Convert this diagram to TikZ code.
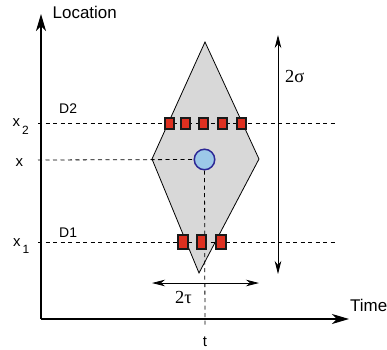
\documentclass[tikz,border=0pt]{standalone}
\usepackage{fontspec}
\setmainfont{Liberation Sans}
\newfontfamily\grk{Liberation Serif}
\usetikzlibrary{arrows.meta,positioning}
\definecolor{sensred}{RGB}{222,48,32}
\definecolor{targblue}{RGB}{156,200,232}
\definecolor{targedge}{RGB}{45,40,150}
\definecolor{zone}{RGB}{216,216,216}

\begin{document}
\begin{tikzpicture}[
  x=1bp, y=-1bp,
  axis/.style={-{Stealth[length=17bp,width=10bp,inset=5bp]},line width=1.1bp},
  guide/.style={dash pattern=on 4bp off 3.5bp,line width=0.8bp},
  span/.style={{Stealth[length=13bp,width=6.5bp,inset=4bp]}-{Stealth[length=13bp,width=6.5bp,inset=4bp]},line width=0.8bp},
  sensor/.style={draw=black!90,line width=2bp,fill=sensred,minimum width=9.5bp,inner sep=0pt},
  target/.style={circle,draw=targedge,line width=1.5bp,fill=targblue,minimum size=20.5bp,inner sep=0pt},
  lbl/.style={anchor=base west,inner sep=0pt}
]
\useasboundingbox (0,0) rectangle (387,350);

% axes
\coordinate (origin) at (41,319);
\coordinate (ytop) at (41,14);
\coordinate (xend) at (349,319);
\draw[axis] (origin) -- (ytop);
\draw[axis] (origin) -- (xend);
\node[lbl,font=\fontsize{17}{17}\selectfont] (loc) at (52.5,18.5) {Location};
\node[lbl,font=\fontsize{17}{17}\selectfont] (time) at (350,311.7) {Time};

% search region
\coordinate (ztop) at (205,42);
\coordinate (zleft) at (152,159);
\coordinate (zbot) at (199,273);
\coordinate (zright) at (259,159);
\filldraw[fill=zone,draw=black,line width=0.8bp] (ztop) -- (zleft) -- (zbot) -- (zright) -- cycle;

% detector levels
\coordinate (x2a) at (38,123.5);
\coordinate (x2b) at (336,123.5);
\coordinate (x1a) at (38,242.5);
\coordinate (x1b) at (336,242.5);
\coordinate (xa) at (38,160);
\coordinate (tb) at (205,328);
\node[target] (obj) at (204.5,159.5) {};
\draw[guide] (x2a) -- (x2b);
\draw[guide] (x1a) -- (x1b);
\draw[guide] (xa) -- (obj.west);
\draw[guide] (obj.south) -- (tb);

\node[lbl,font=\fontsize{15}{15}\selectfont] (lx2) at (12.5,126) {x};
\node[lbl,font=\fontsize{12}{12}\selectfont] (lx2s) at (22,134) {2};
\node[lbl,font=\fontsize{15}{15}\selectfont] (lx) at (15.5,166) {x};
\node[lbl,font=\fontsize{15}{15}\selectfont] (lx1) at (13,246) {x};
\node[lbl,font=\fontsize{12}{12}\selectfont] (lx1s) at (22.5,253.5) {1};
\node[lbl,font=\fontsize{14}{14}\selectfont] (dtwo) at (59,113) {D2};
\node[lbl,font=\fontsize{14}{14}\selectfont] (done) at (59,237) {D1};
\node[anchor=north,inner sep=0pt,font=\fontsize{15}{15}\selectfont] (lt) at (205,337) {t};

% sensors
\foreach \px [count=\i] in {169.7,185.7,203.7,222.3,241.7}
  \node[sensor,minimum height=11bp] (dtwo\i) at (\px,123.5) {};
\foreach \px [count=\i] in {182.8,201.7,221}
  \node[sensor,minimum height=13.5bp] (done\i) at (\px,242.2) {};

% spans
\coordinate (sa) at (278,35);
\coordinate (sb) at (278,274);
\draw[span] (sa) -- (sb);
\node[lbl,font=\grk\fontsize{18.5}{18.5}\selectfont] (lsig) at (285,82) {2σ};
\coordinate (ta) at (152,283);
\coordinate (tc) at (259,283);
\draw[span] (ta) -- (tc);
\node[lbl,font=\grk\fontsize{18.5}{18.5}\selectfont] (ltau) at (175,303) {2τ};
\end{tikzpicture}
\end{document}
